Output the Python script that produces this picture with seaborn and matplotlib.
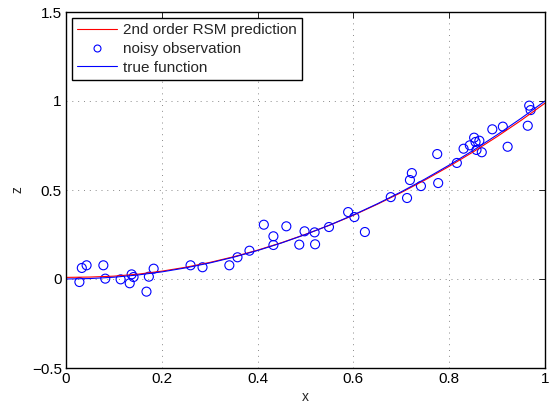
import numpy as np
import pandas as pd
import matplotlib
matplotlib.use("Agg")
import matplotlib.pyplot as plt
import seaborn as sns
from matplotlib.lines import Line2D

obs_x = [0.028, 0.033, 0.043, 0.078, 0.082, 0.114, 0.133, 0.137, 0.141, 0.168,
         0.173, 0.183, 0.260, 0.285, 0.341, 0.358, 0.383, 0.413, 0.433, 0.433,
         0.460, 0.487, 0.498, 0.519, 0.520, 0.549, 0.589, 0.602, 0.624, 0.678,
         0.712, 0.718, 0.722, 0.741, 0.775, 0.777, 0.816, 0.830, 0.843, 0.852,
         0.855, 0.863, 0.857, 0.868, 0.890, 0.912, 0.922, 0.964, 0.967, 0.970]
obs_z = [-0.017, 0.062, 0.077, 0.077, 0.002, -0.002, -0.024, 0.026, 0.011, -0.071,
         0.013, 0.058, 0.077, 0.066, 0.077, 0.122, 0.159, 0.305, 0.240, 0.191,
         0.296, 0.193, 0.268, 0.262, 0.195, 0.292, 0.376, 0.348, 0.264, 0.460,
         0.455, 0.556, 0.595, 0.522, 0.702, 0.539, 0.652, 0.732, 0.751, 0.794,
         0.770, 0.777, 0.725, 0.712, 0.841, 0.856, 0.743, 0.861, 0.974, 0.949]

curve_x = [0.00, 0.05, 0.10, 0.15, 0.20, 0.25, 0.30, 0.35, 0.40, 0.45, 0.50,
           0.55, 0.60, 0.65, 0.70, 0.75, 0.80, 0.85, 0.90, 0.95, 1.00]
true_z = [0.000, 0.0025, 0.010, 0.0225, 0.040, 0.0625, 0.090, 0.1225, 0.160, 0.2025, 0.250,
          0.3025, 0.360, 0.4225, 0.490, 0.5625, 0.640, 0.7225, 0.810, 0.9025, 1.000]
rsm_z = [0.009, 0.011, 0.016, 0.027, 0.044, 0.066, 0.093, 0.125, 0.162, 0.204, 0.251,
         0.302, 0.358, 0.420, 0.486, 0.557, 0.633, 0.714, 0.800, 0.891, 0.988]

x_ticks = [0, 0.2, 0.4, 0.6, 0.8, 1]
x_ticklabels = ["0", "0.2", "0.4", "0.6", "0.8", "1"]
y_ticks = [-0.5, 0, 0.5, 1, 1.5]
y_ticklabels = ["\u22120.5", "0", "0.5", "1", "1.5"]

sns.set_style("white")
plt.rcParams["font.family"] = ["Liberation Sans", "DejaVu Sans"]
plt.rcParams["axes.unicode_minus"] = True

fig = plt.figure(figsize=(5.53, 4.09), dpi=100)
ax = fig.add_axes([66/553, 1-368/409, (545-66)/553, (368-12)/409])

curves = pd.DataFrame({"x": curve_x, "rsm": rsm_z, "true": true_z})
obs = pd.DataFrame({"x": obs_x, "z": obs_z})

sns.lineplot(data=curves, x="x", y="rsm", ax=ax, color="red", lw=0.8, sort=False)
sns.scatterplot(data=obs, x="x", y="z", ax=ax, marker="o", s=42,
                facecolors="none", edgecolors="blue", linewidths=0.8)
sns.lineplot(data=curves, x="x", y="true", ax=ax, color="blue", lw=0.8, sort=False)

ax.set_xlim(0, 1)
ax.set_ylim(-0.5, 1.5)
ax.set_xticks(x_ticks)
ax.set_xticklabels(x_ticklabels)
ax.set_yticks(y_ticks)
ax.set_yticklabels(y_ticklabels)
ax.set_xlabel("x", fontsize=10, labelpad=3)
ax.set_ylabel("z", fontsize=10, labelpad=5)
ax.tick_params(direction="in", length=4, width=0.6, top=True, right=True,
               labelsize=11, pad=3, colors="black")
ax.grid(True, linestyle=(0, (1, 5)), color="#8a8a8a", linewidth=0.7)
for sp in ax.spines.values():
    sp.set_visible(True)
    sp.set_color("black")
    sp.set_linewidth(1.0)

handles = [Line2D([], [], color="red", lw=0.8),
           Line2D([], [], color="blue", marker="o", mfc="none", ls="none", ms=5, mew=0.8),
           Line2D([], [], color="blue", lw=0.8)]
labels = ["2nd order RSM prediction", "noisy observation", "true function"]
leg = ax.legend(handles, labels, loc="upper left", fontsize=11, frameon=True,
                fancybox=False, framealpha=1, edgecolor="black",
                borderaxespad=0.4, handlelength=2.6, handletextpad=0.4,
                labelspacing=0.3, borderpad=0.35)
leg.get_frame().set_linewidth(1.0)

fig.savefig("out.png", dpi=100)
